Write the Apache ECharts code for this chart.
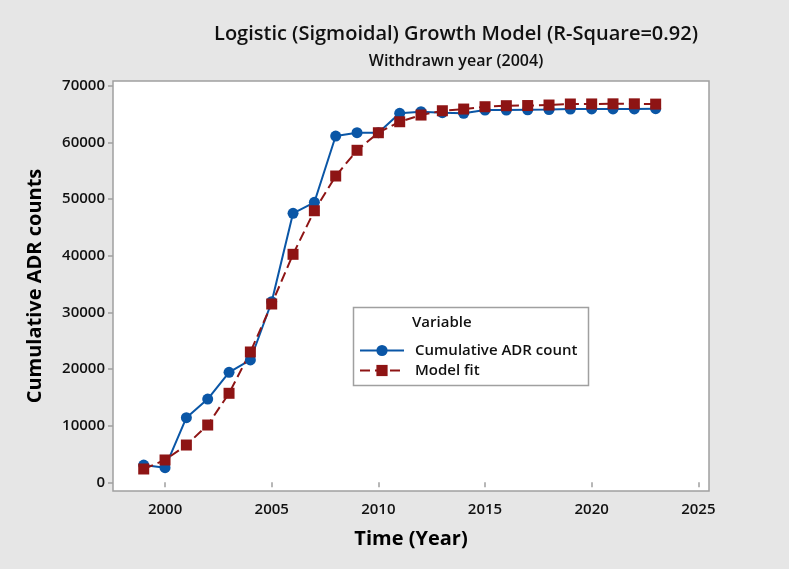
<!DOCTYPE html>
<html>
<head>
<meta charset="utf-8">
<style>
html, body { margin: 0; padding: 0; background: #e6e6e6; }
#container { width: 789px; height: 569px; }
</style>
<script src="https://cdn.jsdelivr.net/npm/echarts@6/dist/echarts.min.js"></script>
</head>
<body>
<div id="container"></div>
<script type="text/javascript">
// data
var years = [1999, 2000, 2001, 2002, 2003, 2004, 2005, 2006, 2007, 2008, 2009, 2010, 2011,
             2012, 2013, 2014, 2015, 2016, 2017, 2018, 2019, 2020, 2021, 2022, 2023];
var adrCount = [3050, 2580, 11400, 14700, 19410, 21590, 31870, 47480, 49420, 61120, 61700, 61700, 65120,
                65410, 65230, 65120, 65700, 65700, 65750, 65800, 65880, 65900, 65900, 65900, 65950];
var modelFit = [2350, 3940, 6580, 10110, 15710, 23000, 31470, 40240, 47930, 54060, 58600, 61700, 63640,
                64820, 65580, 65880, 66290, 66470, 66500, 66590, 66770, 66780, 66800, 66800, 66750];
var xTicks = [2000, 2005, 2010, 2015, 2020, 2025];
var yTicks = [0, 10000, 20000, 30000, 40000, 50000, 60000, 70000];

function pairs(ys) {
    return years.map(function (y, i) { return [y, ys[i]]; });
}
function plain(v) { return String(v); }

var font = 'Open Sans';
var dom = document.getElementById("container");
var myChart = echarts.init(dom);
var option = {
    backgroundColor: '#e6e6e6',
    animation: false,
    title: {
        text: 'Logistic (Sigmoidal) Growth Model (R-Square=0.92)',
        subtext: 'Withdrawn year (2004)',
        left: 451,
        top: 19,
        textAlign: 'center',
        itemGap: 9,
        textStyle: { fontFamily: font, fontSize: 20, fontWeight: 600, color: '#111' },
        subtextStyle: { fontFamily: font, fontSize: 16, fontWeight: 600, color: '#111' }
    },
    grid: {
        left: 113, top: 81, right: 80, bottom: 78,
        show: true, backgroundColor: '#ffffff', borderColor: '#a0a0a0', borderWidth: 1.5
    },
    xAxis: {
        type: 'value',
        min: 1997.56,
        max: 2025.5,
        name: 'Time (Year)',
        nameLocation: 'middle',
        nameGap: 38,
        nameTextStyle: { fontFamily: font, fontSize: 20, fontWeight: 'bold', color: '#000' },
        splitLine: { show: false },
        axisLine: { show: false },
        axisTick: { show: true, customValues: xTicks, length: 5, lineStyle: { color: '#a0a0a0', width: 1.5 } },
        axisLabel: { customValues: xTicks, formatter: plain, fontFamily: font, fontSize: 15, fontWeight: 600, color: '#111', margin: 11 }
    },
    yAxis: {
        type: 'value',
        min: -1535,
        max: 70830,
        name: 'Cumulative ADR counts',
        nameLocation: 'middle',
        nameGap: 68,
        nameTextStyle: { fontFamily: font, fontSize: 20, fontWeight: 'bold', color: '#000' },
        splitLine: { show: false },
        axisLine: { show: false },
        axisTick: { show: true, customValues: yTicks, length: 5, lineStyle: { color: '#a0a0a0', width: 1.5 } },
        axisLabel: { customValues: yTicks, formatter: plain, fontFamily: font, fontSize: 15, fontWeight: 600, color: '#111', margin: 8 }
    },
    legend: {
        orient: 'vertical',
        left: 354,
        top: 338,
        z: 10,
        itemWidth: 44,
        itemHeight: 14,
        itemGap: 5,
        textStyle: { fontFamily: font, fontSize: 15, fontWeight: 600, color: '#111', padding: [0, 0, 0, 6] },
        data: ['Cumulative ADR count', 'Model fit']
    },
    graphic: [
        {
            type: 'rect',
            z: 3,
            shape: { x: 353.5, y: 307.5, width: 235, height: 78 },
            style: { fill: '#ffffff', stroke: '#a0a0a0', lineWidth: 1.5 }
        },
        {
            type: 'text',
            z: 4,
            left: 412,
            top: 315,
            style: { text: 'Variable', font: '600 15px "Open Sans"', fill: '#111' }
        }
    ],
    series: [
        {
            name: 'Cumulative ADR count',
            type: 'line',
            data: pairs(adrCount),
            symbol: 'circle',
            symbolSize: 11,
            color: '#0a56a6',
            lineStyle: { width: 2, color: '#0a56a6' },
            itemStyle: { color: '#0a56a6' },
            z: 2
        },
        {
            name: 'Model fit',
            type: 'line',
            data: pairs(modelFit),
            symbol: 'rect',
            symbolSize: 11,
            color: '#8e1414',
            lineStyle: { width: 2, type: [10, 5], color: '#8e1414' },
            itemStyle: { color: '#8e1414' },
            z: 2
        }
    ]
};
myChart.setOption(option, true);
</script>
</body>
</html>
